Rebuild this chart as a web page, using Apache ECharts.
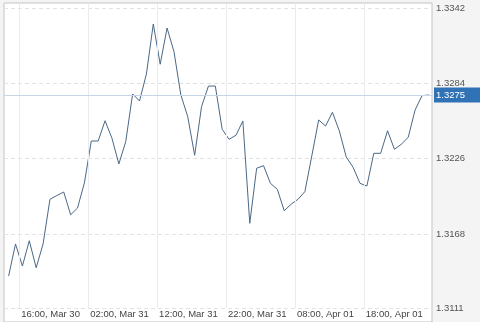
<!DOCTYPE html>
<html>
<head>
<meta charset="utf-8">
<script src="https://cdn.jsdelivr.net/npm/echarts@6/dist/echarts.min.js"></script>
<style>
html,body{margin:0;padding:0;background:#f4f4f4;}
#c{width:480px;height:322px;}
</style>
</head>
<body>
<div id="c"></div>
<script>
// hourly closes, first sample at ~14:27 Mar 30 (hours counted from Mar 30 00:00)
const startHour = 14.45;
const values = [
  1.31356, 1.31603, 1.31433, 1.31628, 1.31420, 1.31603, 1.31947, 1.31976, 1.32003, 1.31828,
  1.31880, 1.32073, 1.32396, 1.32396, 1.32552, 1.32417, 1.32219, 1.32391, 1.32758, 1.32704,
  1.32912, 1.33297, 1.32987, 1.33266, 1.33084, 1.32750, 1.32583, 1.32286, 1.32660, 1.32819,
  1.32819, 1.32486, 1.32409, 1.32440, 1.32550, 1.31762, 1.32186, 1.32206, 1.32070, 1.32024,
  1.31859, 1.31909, 1.31947, 1.32006, 1.32280, 1.32558, 1.32511, 1.32617, 1.32473, 1.32273,
  1.32193, 1.32070, 1.32049, 1.32301, 1.32301, 1.32475, 1.32332, 1.32371, 1.32424, 1.32635,
  1.32745, 1.32750
];
const xTickHours = [16, 26, 36, 46, 56, 66];
const xTickLabels = ['16:00, Mar 30', '02:00, Mar 31', '12:00, Mar 31', '22:00, Mar 31', '08:00, Apr 01', '18:00, Apr 01'];
const yTicks = [1.3111, 1.3168, 1.3226, 1.3284, 1.3342];
const lastValue = 1.3275;

const yMin = 1.310022, yMax = 1.334585;
const seriesData = values.map((v, i) => [startHour + i, v]);
const vLines = xTickHours.map(h => [{coord: [h, yTicks[0]]}, {coord: [h, yMax]}]);

const chart = echarts.init(document.getElementById('c'), null, {renderer: 'canvas'});
chart.setOption({
  animation: false,
  backgroundColor: '#f4f4f4',
  grid: {
    left: 4, right: 48, top: 3, bottom: 0,
    containLabel: false,
    outerBoundsMode: 'none',
    show: true, backgroundColor: '#ffffff', borderColor: '#c4c4c4', borderWidth: 1
  },
  xAxis: {
    type: 'value',
    min: 13.78, max: 75.9,
    axisLine: {show: false},
    axisTick: {show: false, customValues: xTickHours},
    axisLabel: {
      inside: true, margin: 3, customValues: xTickHours,
      align: 'left', padding: [0, 0, 0, 2],
      hideOverlap: false,
      fontFamily: 'Liberation Sans', fontSize: 9.5, color: '#444',
      formatter: v => {
        const i = xTickHours.indexOf(Math.round(v));
        return i >= 0 ? xTickLabels[i] : '';
      }
    },
    splitLine: {show: false}
  },
  yAxis: {
    type: 'value',
    position: 'right',
    min: yMin, max: yMax,
    axisLine: {show: false},
    axisTick: {show: false, customValues: yTicks},
    axisLabel: {
      margin: 4, customValues: yTicks,
      fontFamily: 'Liberation Sans', fontSize: 9.5, color: '#555',
      formatter: v => v.toFixed(4)
    },
    splitLine: {show: true, lineStyle: {color: '#e2e2e2', width: 1, type: [4, 3]}}
  },
  series: [{
    type: 'line',
    data: [],
    z: 1,
    silent: true,
    markLine: {
      silent: true,
      symbol: ['none', 'none'],
      lineStyle: {color: '#e8ecf0', width: 1, type: 'solid'},
      label: {show: false},
      emphasis: {disabled: true},
      data: vLines
    }
  }, {
    type: 'line',
    data: seriesData,
    z: 3,
    showSymbol: false,
    symbol: 'none',
    lineStyle: {color: '#4a6885', width: 1},
    markLine: {
      silent: true,
      precision: 4,
      symbol: ['none', 'none'],
      lineStyle: {color: '#c6d6e6', width: 1, type: 'solid'},
      label: {
        position: 'end', distance: 2,
        backgroundColor: '#2f72b6', color: '#ffffff',
        padding: [3, 16, 2, 2],
        fontFamily: 'Liberation Sans', fontSize: 9.5,
        formatter: p => Number(p.value).toFixed(4)
      },
      emphasis: {disabled: true},
      data: [{yAxis: lastValue}]
    }
  }]
});
</script>
</body>
</html>
